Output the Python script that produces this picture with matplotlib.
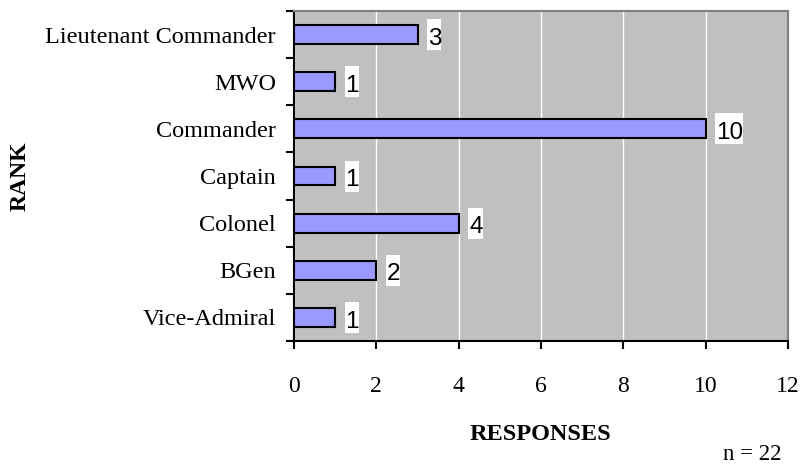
import matplotlib.pyplot as plt
import matplotlib.patches as mpatches
import matplotlib.transforms as mtransforms
import numpy as np

ranks = ["Vice-Admiral", "BGen", "Colonel", "Captain", "Commander", "MWO", "Lieutenant Commander"]
responses = [1, 2, 4, 1, 10, 1, 3]
xticks = [0, 2, 4, 6, 8, 10, 12]

serif = "Liberation Serif"
sans = "Liberation Sans"

fig = plt.figure(figsize=(8.01, 4.68), dpi=100)
ax = fig.add_axes([294/801, 1 - 341/468, 494/801, 330/468])
ax.set_facecolor("#c0c0c0")

y = np.arange(len(ranks))
ax.barh(y, responses, height=0.4, color="#9999ff", edgecolor="black", linewidth=1.5, zorder=3)

labels = []
for yi, v in zip(y, responses):
    t = ax.annotate(str(v), (v, yi), xytext=(7.5, -3), textcoords="offset points",
                    ha="left", va="center", fontsize=17.5, family=sans, zorder=5)
    labels.append(t)

ax.set_xlim(0, 12)
ax.set_ylim(-0.5, len(ranks) - 0.5)
ax.set_xticks(xticks)
ax.set_xticklabels([str(t) for t in xticks], family=serif, fontsize=17)
ax.tick_params(axis="x", length=6, width=1.5, direction="out", pad=19)
ax.grid(axis="x", color="white", linewidth=1, zorder=1)

ax.set_yticks(y)
ax.set_yticklabels(ranks, family=serif, fontsize=17.5)
ax.set_yticks(np.arange(-0.5, len(ranks)), minor=True)
ax.tick_params(axis="y", which="major", length=0, pad=13)
ax.tick_params(axis="y", which="minor", length=6, width=1.5, direction="out")

for s in ["left", "bottom"]:
    ax.spines[s].set_linewidth(1.5)
    ax.spines[s].set_color("black")
for s in ["top", "right"]:
    ax.spines[s].set_linewidth(1.5)
    ax.spines[s].set_color("#808080")

fig.text(20/801, 1 - 176/468, "RANK", rotation=90, ha="center", va="center",
         family=serif, fontsize=17, fontweight="bold")
fig.text(540/801, 1 - 434/468, "RESPONSES", ha="center", va="center",
         family=serif, fontsize=17.5, fontweight="bold")
fig.text(752/801, 1 - 455/468, "n = 22", ha="center", va="center",
         family=serif, fontsize=16.5)

# white label boxes: tight horizontally, tall vertically (as in the original)
fig.canvas.draw()
renderer = fig.canvas.get_renderer()
for t, yi in zip(labels, y):
    ext = t.get_window_extent(renderer)
    yc = ax.transData.transform((0, yi))[1]
    rect = mpatches.Rectangle((ext.x0 - 1, yc - 15.5), ext.width + 1, 31,
                              transform=mtransforms.IdentityTransform(),
                              facecolor="white", edgecolor="none", zorder=4)
    ax.add_patch(rect)

fig.savefig("out.png", dpi=100)
